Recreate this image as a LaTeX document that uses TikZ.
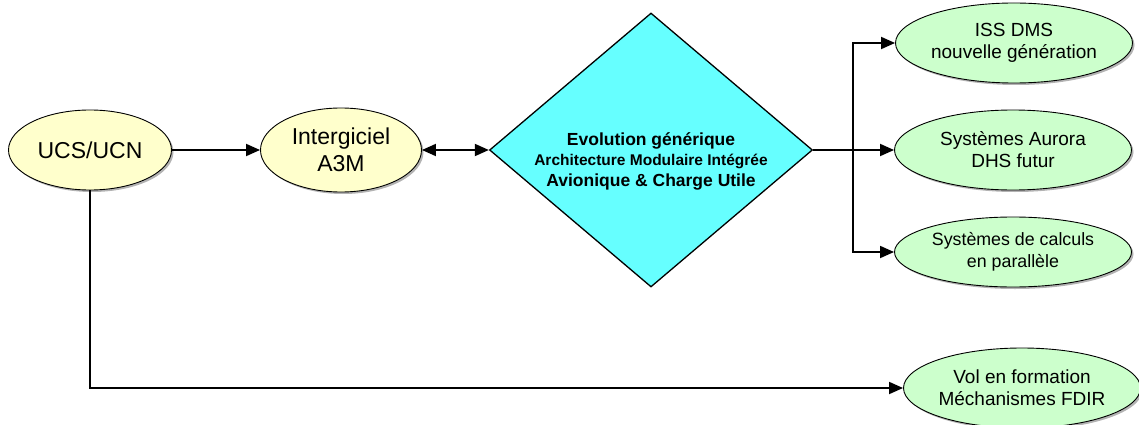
\documentclass[tikz,border=0pt]{standalone}
\usepackage{fontspec}
\setmainfont{Liberation Sans}
\usepackage{tikz}
\usetikzlibrary{arrows.meta, shapes.geometric, shadows}
\definecolor{colorsrc}{RGB}{255,255,204}
\definecolor{colorgen}{RGB}{102,255,255}
\definecolor{colorapp}{RGB}{204,255,204}
\tikzstyle{bubble} =[ellipse, draw=black, line width=0.9pt, inner sep=0pt, align=center, drop shadow={shadow xshift=2pt, shadow yshift=-2pt, fill=black!50, opacity=.6}]
\tikzstyle{source} =[bubble, fill=colorsrc, font=\fontsize{23}{27}\selectfont]
\tikzstyle{target} =[bubble, fill=colorapp, minimum width=237pt, minimum height=80pt, font=\fontsize{19}{22}\selectfont]
\tikzstyle{link} =[line width=1.8pt, -{Triangle[length=14pt,width=12pt]}]

\begin{document}
\begin{tikzpicture}[x=1pt, y=-1pt]
        \useasboundingbox (0,0) rectangle (1139,425);

        % Sources
        \node[source, minimum width=163pt, minimum height=80pt] (ucs) at (90,150) {UCS/UCN};
        \node[source, minimum width=161pt, minimum height=84pt] (a3m) at (341,150) {Intergiciel\\A3M};

        % Generic evolution
        \node[diamond, draw=black, line width=1.3pt, fill=colorgen, minimum width=323pt, minimum height=274pt, inner sep=0pt] (evol) at (651,150) {};
        \node[align=center, font=\bfseries\fontsize{17.5}{20.5}\selectfont] (evoltext) at (651,161)
            {Evolution générique\\{\fontsize{15.5}{20.5}\selectfont Architecture Modulaire Intégrée}\\Avionique \& Charge Utile};

        %% Applications
        \node[target] (iss) at (1014,43) {ISS DMS\\nouvelle génération};
        \node[target] (aur) at (1013,150) {Systèmes Aurora\\DHS futur};
        \node[target, minimum height=70pt, font=\fontsize{17.8}{22}\selectfont] (par) at (1013,252) {Systèmes de calculs\\en parallèle};
        \node[target] (vol) at (1022,388) {Vol en formation\\Méchanismes FDIR};

        \coordinate (split) at (853,150);

        %% Arrows
        \draw[link] (ucs) -- (a3m);
        \draw[line width=1.8pt, {Triangle[length=14pt,width=12pt]}-{Triangle[length=14pt,width=12pt]}] (a3m) -- (evol);
        \draw[line width=1.8pt] (evol.east) -- (split);
        \foreach \app in {iss, aur, par} {
                \draw[link] (split) |- (\app.west);
            }
        \draw[link] (ucs.south) |- (vol.west);

    \end{tikzpicture}
\end{document}
